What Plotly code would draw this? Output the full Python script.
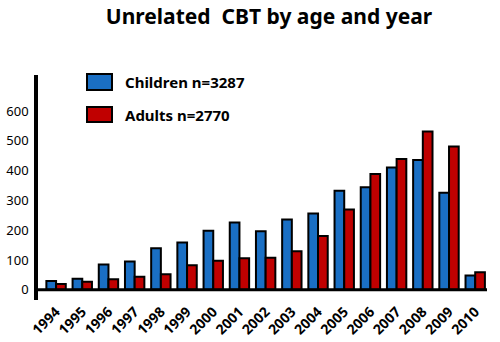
import plotly.graph_objects as go

years = [str(y) for y in range(1994, 2011)]
children = [30, 37, 85, 95, 140, 159, 198, 226, 197, 236, 256, 333, 344, 411, 436, 326, 48]
adults = [20, 27, 36, 44, 52, 83, 98, 106, 108, 130, 181, 270, 389, 439, 531, 481, 59]
series_names = ["Children n=3287", "Adults n=2770"]
colors = ["#1a6fc4", "#c00000"]
yticks = [0, 100, 200, 300, 400, 500, 600]

FONT = "Noto Sans"

fig = go.Figure()
for name, vals, col in zip(series_names, [children, adults], colors):
    fig.add_trace(go.Bar(
        x=years, y=vals, name=name,
        marker=dict(color=col, line=dict(color="black", width=2)),
        showlegend=False,
    ))

fig.update_layout(
    width=500, height=342,
    margin=dict(l=38, r=13, t=75, b=42, autoexpand=False),
    paper_bgcolor="white", plot_bgcolor="white",
    barmode="group", bargap=0.26, bargroupgap=0.0,
    title=dict(text="<b>Unrelated  CBT by age and year</b>", x=0.538, xanchor="center",
               y=0.95, yanchor="middle",
               font=dict(family=FONT, size=21, color="black")),
    xaxis=dict(range=[-0.69, 16.45], showline=False, showgrid=False, ticks="",
               automargin=False,
               tickangle=-45, tickfont=dict(family=FONT, size=14, color="black"),
               ticklabelstandoff=0),
    yaxis=dict(range=[-34, 721], showline=True, linecolor="black", linewidth=3.5,
               automargin=False,
               showgrid=False, zeroline=False, ticks="", tickvals=yticks,
               ticklabelstandoff=3,
               tickfont=dict(family=FONT, size=13, color="black")),
)
fig.update_xaxes(tickprefix="<b>", ticksuffix="</b>")
fig.update_yaxes(tickprefix="<b>", ticksuffix="</b>")

# x-axis baseline at zero
fig.add_shape(type="line", xref="paper", yref="y", x0=-0.008, x1=1.0, y0=0, y1=0,
              line=dict(color="black", width=3))

# manual legend
box_y = [(74, 90), (107, 122)]
for name, col, (ya, yb) in zip(series_names, colors, box_y):
    fig.add_shape(type="rect", xref="paper", yref="paper",
                  x0=(87 - 38) / 449, x1=(112 - 38) / 449,
                  y0=(342 - 42 - yb) / 225, y1=(342 - 42 - ya) / 225,
                  fillcolor=col, line=dict(color="black", width=2))
    fig.add_annotation(xref="paper", yref="paper",
                       x=(123 - 38) / 449, y=(342 - 42 - (ya + yb) / 2) / 225,
                       text="<b>" + name + "</b>", showarrow=False,
                       xanchor="left", yanchor="middle",
                       font=dict(family=FONT, size=15, color="black"))

fig.write_html("out.html")
